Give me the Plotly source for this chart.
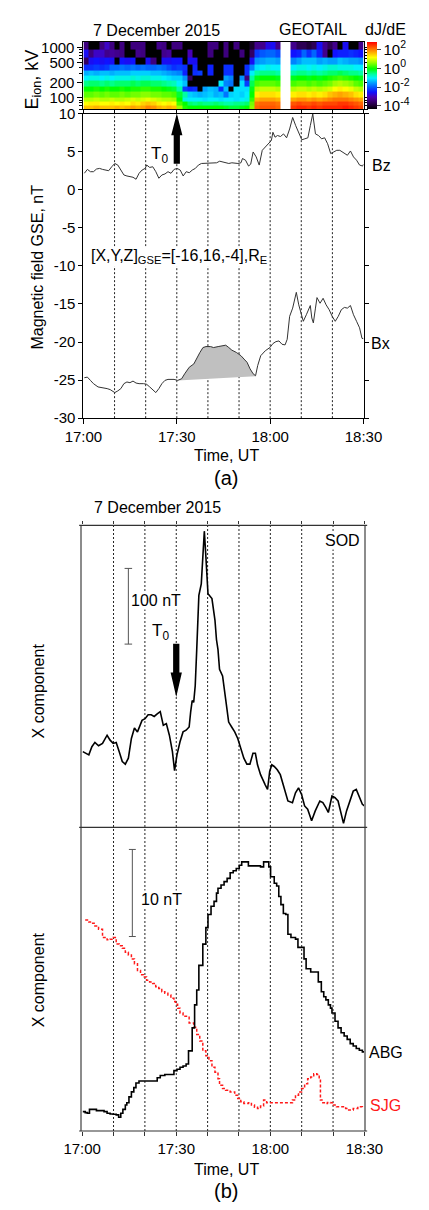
import numpy as np
import plotly.graph_objects as go

W, H = 429, 1210
FONT = "Liberation Sans, Arial, sans-serif"


def fx(px):
    return px / W


def fy(py):
    return 1 - py / H


# ---------------------------------------------------------------- time axis
# all times are minutes after 17:00 UT on 7 December 2015
TIME_TICKS = [0, 30, 60, 90]
TIME_LABELS = ["17:00", "17:30", "18:00", "18:30"]
TEN_MIN_TICKS = [0, 10, 20, 30, 40, 50, 60, 70, 80, 90]
GRID_MINUTES = [10, 20, 30, 40, 50, 60, 70, 80]
T0_MIN = 30

# ---------------------------------------------------------------- Geotail ion spectrogram
ENERGY_EDGES_KEV = [60, 70, 83, 102, 132, 170, 220, 280, 355, 470, 630, 930, 1320]
ENERGY_TICKS_KEV = [100, 200, 500, 1000]
ENERGY_MINOR_KEV = [60, 70, 80, 90, 300, 400, 600, 700, 800, 900]
N_SPEC_BINS = 54
GAP = [None, None]
# log10 dJ/dE, one row per energy channel (lowest channel first)
FLUX_LOG10 = [
    [1.6, 1.6, 1.7, 1.6, 1.6, 1.6, 1.7, 1.6, 1.7, 1.8, 1.7, 1.8, 2.0, 1.9, 1.7, 1.6, 1.7, 1.6]
    + [0.7, 0.1, 0.0, 0.0, 0.0, 0.0, 0.0, 0.0, 0.0, -0.1, -0.2, -0.2, -0.1, 0.0, 0.6]
    + [2.2, 2.3, 2.3, 2.3, 2.2] + GAP
    + [2.5, 2.6, 2.6, 2.5, 2.6, 2.5, 2.6, 2.6, 2.6, 2.6, 2.7, 2.6, 2.5, 2.4],
    [1.2, 1.3, 1.3, 1.2, 1.2, 1.3, 1.2, 1.3, 1.2, 1.4, 1.3, 1.5, 1.6, 1.5, 1.3, 1.2, 1.3, 1.2]
    + [0.3, 0.0, -0.4, -0.5, -0.4, -0.5, -0.5, -0.4, -0.5, -0.6, -0.6, -0.5, -0.5, -0.4, 0.5]
    + [2.1, 2.2, 2.2, 2.2, 2.1] + GAP
    + [2.3, 2.4, 2.3, 2.3, 2.4, 2.3, 2.4, 2.4, 2.4, 2.5, 2.5, 2.4, 2.3, 2.2],
    [0.8, 0.8, 0.9, 0.8, 0.8, 0.9, 0.8, 0.8, 0.9, 1.0, 0.9, 1.0, 1.1, 1.0, 0.9, 0.8, 0.8, 0.7]
    + [0.0, -0.9, -1.0, -1.0, -1.0, -1.1, -1.0, -1.0, -1.1, -1.0, -1.0, -1.1, -1.0, -0.9, 0.2]
    + [1.7, 1.8, 1.8, 1.8, 1.7] + GAP
    + [1.8, 1.9, 1.9, 1.8, 1.9, 1.8, 1.9, 2.0, 2.1, 2.1, 2.1, 2.0, 1.9, 1.8],
    [0.4, 0.4, 0.5, 0.4, 0.5, 0.4, 0.4, 0.5, 0.4, 0.5, 0.5, 0.6, 0.6, 0.5, 0.5, 0.4, 0.4, 0.3]
    + [-0.2, -0.6, -1.2, -1.3, -1.4, -1.3, -1.2, -1.4, -1.3, -1.8, -1.2, -1.1, -1.2, -1.0, 0.0]
    + [1.3, 1.4, 1.4, 1.4, 1.3] + GAP
    + [1.3, 1.4, 1.4, 1.3, 1.4, 1.3, 1.4, 1.6, 1.7, 1.8, 1.7, 1.6, 1.4, 1.3],
    [0.0, 0.0, 0.1, 0.0, 0.1, 0.0, 0.0, 0.1, 0.0, 0.1, 0.1, 0.2, 0.2, 0.1, 0.1, 0.0, -0.1, -0.2]
    + [-0.6, -2.2, -2.4, -2.3, -4.3, -1.5, -1.3, -1.4, -2.3, -1.3, -4.3, -1.1, -1.1, -1.1, -0.1]
    + [0.8, 0.9, 0.9, 0.9, 0.8] + GAP
    + [0.8, 0.9, 0.9, 0.8, 0.9, 0.8, 0.9, 1.0, 1.2, 1.3, 1.2, 1.1, 0.9, 0.8],
    [-0.5, -0.4, -0.4, -0.5, -0.4, -0.5, -0.4, -0.4, -0.4, -0.3, -0.4, -0.3, -0.3, -0.4, -0.4, -0.5, -0.6, -0.7]
    + [-1.0, -1.3, -4.3, -4.3, -4.3, -4.3, -4.3, -4.3, -1.0, -1.7, -1.8, -4.3, -1.1, -2.2, -0.3]
    + [0.3, 0.4, 0.4, 0.4, 0.3] + GAP
    + [0.3, 0.4, 0.4, 0.3, 0.4, 0.3, 0.4, 0.5, 0.7, 0.8, 0.7, 0.6, 0.4, 0.3],
    [-1.0, -0.9, -0.9, -1.0, -0.9, -1.0, -0.9, -0.9, -0.9, -0.8, -0.9, -0.8, -0.8, -0.9, -0.9, -1.0, -1.1, -1.2]
    + [-1.2, -1.6, -3.6, -4.3, -4.3, -4.3, -4.3, -4.3, -4.3, -1.5, -1.7, -4.3, -1.6, -3.4, -0.6]
    + [-0.1, 0.0, 0.0, 0.0, -0.1] + GAP
    + [-0.1, 0.0, 0.0, -0.1, 0.0, -0.1, 0.0, 0.1, 0.2, 0.3, 0.2, 0.1, 0.0, -0.1],
    [-1.4, -1.3, -1.4, -1.3, -1.3, -1.4, -1.3, -1.3, -1.3, -1.2, -1.2, -1.2, -1.2, -1.3, -1.3, -1.4, -1.5, -1.6]
    + [-1.7, -2.4, -4.3, -2.3, -2.2, -4.3, -2.4, -4.3, -4.3, -2.3, -2.3, -4.3, -4.3, -2.3, -1.0]
    + [-0.6, -0.5, -0.5, -0.5, -0.6] + GAP
    + [-0.6, -0.5, -0.5, -0.6, -0.5, -0.6, -0.5, -0.4, -0.4, -0.3, -0.4, -0.5, -0.5, -0.6],
    [-2.3, -2.3, -2.2, -2.3, -2.2, -1.9, -1.9, -1.8, -1.9, -1.8, -1.9, -1.8, -1.9, -1.9, -1.8, -1.9, -2.1, -2.3]
    + [-2.2, -2.3, -4.3, -2.4, -4.3, -4.3, -2.4, -4.3, -4.3, -2.3, -2.3, -4.3, -4.3, -2.3, -1.7]
    + [-1.1, -1.0, -0.9, -1.0, -1.0] + GAP
    + [-1.0, -0.9, -0.9, -1.0, -0.9, -1.0, -0.9, -0.8, -0.8, -0.9, -0.9, -0.9, -1.0, -1.0],
    [-3.6, -2.6, -2.5, -2.6, -2.5, -2.6, -4.3, -2.5, -2.6, -2.5, -4.3, -4.3, -2.6, -3.4, -4.3, -2.6, -2.6, -2.5]
    + [-2.5, -4.3, -2.6, -2.6, -4.3, -4.3, -4.3, -4.3, -4.3, -4.3, -4.3, -4.3, -4.3, -4.3, -2.6]
    + [-1.6, -1.5, -1.4, -1.4, -1.5] + GAP
    + [-1.7, -1.5, -1.3, -1.3, -1.3, -1.5, -1.4, -1.5, -1.5, -1.3, -1.4, -1.5, -1.5, -1.6],
    [-2.6, -3.4, -2.9, -2.9, -3.3, -3.2, -3.3, -3.4, -4.3, -4.3, -3.3, -3.4, -4.3, -4.3, -4.3, -3.3, -3.2, -4.3]
    + [-4.3, -4.3, -3.0, -4.3, -4.3, -4.3, -3.4, -4.3, -4.3, -3.4, -4.3, -4.3, -3.4, -4.3, -3.6]
    + [-2.2, -2.0, -1.9, -1.9, -2.1] + GAP
    + [-2.5, -2.4, -1.9, -2.3, -1.9, -2.4, -3.3, -4.3, -2.5, -2.4, -2.4, -2.3, -2.4, -2.5],
    [-3.4, -4.3, -4.3, -3.4, -2.9, -3.4, -4.3, -3.4, -4.3, -3.4, -3.4, -3.4, -4.3, -4.3, -3.3, -3.4, -4.3, -3.4]
    + [-3.4, -4.3, -4.3, -4.3, -4.3, -4.3, -3.4, -3.4, -4.3, -3.4, -4.3, -3.4, -4.3, -4.3, -4.0]
    + [-3.3, -3.3, -2.7, -2.6, -3.3] + GAP
    + [-3.3, -3.7, -3.7, -3.9, -3.7, -2.6, -3.3, -3.7, -3.3, -4.3, -2.6, -4.3, -4.3, -3.3],
]
FLUX_RANGE = [-4.3, 2.85]
FLUX_TICKS = [-4, -2, 0, 2]

# ---------------------------------------------------------------- Geotail magnetic field (GSE), nT
BZ_T = [0.29, 1.27, 2.25, 3.22, 4.20, 5.18, 6.16, 7.13, 8.11, 9.09, 10.07, 11.04, 12.02, 13.00,
        13.97, 14.95, 15.93, 16.91, 17.88, 18.86, 19.84, 20.33, 21.30, 22.28, 23.26, 24.24,
        25.21, 26.19, 27.17, 28.14, 29.12, 30.10, 31.08, 32.05, 33.03, 34.01, 34.98, 35.96,
        36.94, 37.92, 38.89, 39.87, 40.85, 41.83, 42.80, 43.78, 44.76, 45.73, 46.71, 47.69,
        48.67, 49.64, 50.62, 51.11, 52.09, 53.06, 53.75, 54.53, 55.51, 56.48, 57.46, 58.44,
        59.41, 60.39, 60.88, 61.57, 62.35, 63.32, 64.30, 65.28, 66.26, 67.23, 68.21, 69.19,
        70.17, 71.14, 72.12, 72.90, 73.69, 74.56, 75.54, 76.52, 77.50, 78.47, 79.45, 80.43,
        81.40, 82.38, 83.85, 84.82, 85.80, 86.78, 87.76, 88.73, 89.71, 90.0]
BZ = [2.15, 2.66, 2.36, 2.36, 2.71, 2.79, 2.66, 2.58, 2.49, 3.01, 3.44, 3.23, 2.58, 1.93,
      1.80, 1.72, 1.63, 1.37, 2.15, 2.58, 2.79, 3.23, 2.92, 3.01, 2.36, 1.50,
      1.93, 2.06, 2.36, 2.15, 2.66, 2.79, 2.58, 1.80, 2.36, 2.23, 2.58, 2.79,
      3.23, 3.44, 3.44, 3.44, 3.44, 3.44, 3.53, 3.74, 3.66, 3.53, 3.44, 3.53,
      3.44, 3.44, 3.53, 4.09, 3.87, 3.10, 3.35, 4.95, 4.30, 3.23, 5.17, 5.60,
      5.94, 6.46, 7.54, 6.89, 7.11, 6.98, 7.32, 6.81, 7.97, 9.48, 8.40, 7.54,
      6.55, 6.68, 6.81, 8.40, 9.95, 7.32, 7.11, 6.68, 6.81, 6.03, 4.74, 4.95,
      5.17, 5.17, 4.82, 4.52, 5.08, 4.30, 3.87, 3.23, 3.10, 3.35]

BX_T = [0.29, 1.27, 2.25, 3.22, 4.69, 6.16, 7.62, 8.60, 10.07, 11.04, 12.02, 13.00, 13.97,
        14.95, 15.93, 16.91, 17.88, 19.35, 20.33, 21.30, 22.28, 23.26, 24.24, 25.21, 26.19,
        27.17, 28.14, 29.12, 30.29, 31.56, 32.54, 34.01, 35.47, 36.45, 37.43, 38.41, 39.38,
        40.85, 41.83, 43.29, 44.76, 45.73, 46.71, 47.69, 49.15, 50.62, 51.60, 52.58, 53.55,
        54.53, 55.31, 55.99, 56.97, 58.44, 59.91, 60.88, 61.86, 62.84, 63.81, 64.79, 65.47,
        66.26, 67.23, 68.41, 69.19, 70.65, 71.63, 72.90, 73.39, 73.88, 74.56, 75.05, 76.03,
        77.01, 77.98, 78.96, 79.94, 80.92, 81.89, 82.87, 83.85, 84.82, 85.80, 86.78, 87.76,
        88.73, 89.51, 90.0]
BX = [-24.69, -24.61, -25.04, -25.47, -25.90, -25.99, -26.12, -26.25, -26.64, -26.42, -26.12,
      -25.47, -25.25, -25.34, -25.13, -25.39, -25.47, -25.47, -25.56, -25.90, -26.33, -26.64,
      -26.12, -25.47, -25.04, -24.91, -24.91, -24.91, -25.04, -24.82, -24.17, -23.31, -22.88,
      -22.02, -21.37, -20.73, -20.60, -20.60, -20.73, -20.60, -20.51, -20.42, -20.73, -21.07,
      -21.37, -21.80, -22.24, -22.67, -23.53, -24.17, -24.43, -23.10, -21.80, -21.15, -20.73,
      -20.21, -19.95, -19.86, -20.30, -20.38, -19.65, -16.63, -15.55, -13.48, -15.12, -17.28,
      -16.42, -15.21, -16.85, -17.49, -15.55, -14.17, -14.91, -14.26, -15.12, -15.76, -16.63,
      -17.28, -16.63, -15.76, -15.46, -15.55, -15.21, -16.42, -17.28, -18.14, -19.52, -19.57]

# shaded Bx enhancement and its straight base line
SHADE_T = [30.29, 55.31]
SHADE_BASE = [-25.05, -24.50]

# ---------------------------------------------------------------- ground magnetometers, X component
SOD_T = [0.19, 1.16, 2.13, 3.10, 4.07, 5.23, 6.49, 7.95, 8.91, 9.88, 10.85, 11.82, 12.79, 13.76,
         14.73, 15.70, 16.67, 17.64, 18.60, 19.09, 20.06, 21.03, 22.00, 22.97, 23.93, 24.90,
         25.87, 26.84, 27.81, 28.78, 29.46, 30.23, 31.20, 32.17, 33.14, 34.11, 34.59, 35.08,
         35.56, 36.05, 36.53, 37.21, 37.98, 38.66, 38.95, 39.34, 40.12, 41.38, 42.34, 42.83,
         43.31, 43.80, 44.77, 45.74, 46.71, 47.67, 48.64, 49.61, 50.58, 51.55, 52.52, 53.49,
         54.46, 55.23, 55.91, 56.88, 58.33, 59.11, 59.79, 60.47, 61.24, 62.21, 63.18, 64.15,
         65.60, 67.05, 68.02, 68.99, 69.96, 70.93, 71.90, 73.16, 74.32, 75.78, 76.74, 77.71,
         78.49, 79.65, 80.62, 81.59, 82.56, 83.33, 84.30, 85.47, 86.43, 87.40, 88.37, 89.34, 90.0]
SOD = [100.0, 97.8, 95.7, 106.5, 112.2, 107.8, 110.9, 121.7, 115.2, 110.9, 112.2, 100.0, 87.0,
       83.5, 91.3, 117.4, 131.3, 126.1, 134.8, 141.3, 143.5, 148.7, 148.7, 146.5, 150.0, 153.0,
       134.8, 137.0, 121.7, 100.0, 74.8, 95.7, 113.0, 126.1, 128.3, 132.6, 152.2, 167.4,
       165.2, 187.0, 234.8, 306.5, 321.7, 365.2, 391.3, 365.2, 308.7, 302.2, 273.9, 247.8,
       234.8, 208.7, 200.0, 169.6, 139.1, 132.6, 126.1, 117.4, 104.3, 91.3, 83.5, 83.5,
       97.8, 97.8, 82.6, 69.6, 56.5, 50.0, 73.9, 82.6, 80.4, 76.1, 69.6, 56.5,
       34.8, 32.6, 45.7, 52.2, 43.5, 28.3, 23.9, 8.7, 21.7, 34.8, 32.6, 26.1,
       19.6, 41.3, 39.1, 34.8, 17.4, 5.2, 21.7, 34.8, 47.8, 50.0, 41.3, 30.4, 28.3]
SOD_RANGE = [0, 399]
SOD_SCALE_BAR = [242.1, 342.1]     # 100 nT
SOD_SCALE_T = 14.73

ABG_T = [0.19, 0.97, 1.65, 2.33, 3.59, 4.55, 6.01, 6.98, 7.95, 8.91, 9.88, 10.85, 11.63, 12.31,
         12.98, 13.76, 14.24, 14.92, 15.70, 16.47, 17.15, 18.12, 19.57, 21.51, 22.97, 23.93,
         24.90, 26.36, 28.29, 29.26, 30.23, 31.20, 32.17, 33.14, 33.91, 34.59, 35.08, 35.56,
         35.85, 36.53, 37.21, 37.79, 38.47, 39.44, 40.12, 41.09, 42.05, 42.83, 43.31, 44.28,
         45.25, 46.22, 47.19, 48.16, 49.13, 50.10, 50.87, 51.84, 53.00, 53.97, 55.43, 56.88,
         57.85, 58.82, 59.50, 60.08, 61.24, 62.02, 62.69, 63.37, 64.15, 64.92, 65.60, 66.57,
         68.02, 68.80, 69.96, 70.74, 71.41, 72.87, 74.32, 75.29, 76.26, 77.03, 77.71, 78.49,
         79.17, 79.65, 80.62, 81.59, 82.56, 83.53, 84.50, 85.47, 86.43, 87.40, 88.37, 89.34, 90.0]
ABG = [2.23, 2.11, 2.04, 2.49, 2.49, 2.34, 2.34, 2.23, 2.04, 1.96, 1.92, 1.85, 1.58, 2.04,
       2.49, 2.98, 3.25, 3.92, 4.49, 4.98, 5.51, 5.74, 5.74, 5.74, 5.74, 6.11,
       6.38, 6.49, 6.49, 6.94, 7.09, 7.32, 7.47, 7.70, 9.21, 9.21, 11.85, 11.85,
       14.49, 16.19, 19.02, 19.02, 21.47, 23.36, 24.87, 25.81, 26.38, 27.32, 27.89, 28.26,
       28.64, 29.02, 29.66, 29.89, 30.15, 30.53, 30.91, 30.91, 30.45, 30.45, 30.45, 30.34,
       30.91, 30.91, 30.34, 29.21, 28.45, 28.15, 26.94, 26.00, 24.98, 24.87, 22.60, 22.23,
       22.04, 21.09, 21.09, 19.77, 18.64, 18.26, 18.26, 17.13, 16.00, 15.43, 15.06, 14.49,
       14.11, 13.55, 12.60, 11.85, 11.28, 10.91, 10.53, 10.04, 9.77, 9.47, 9.28, 9.09, 9.09]

SJG_T = [0.97, 2.13, 3.10, 4.07, 5.23, 6.49, 7.95, 8.91, 9.88, 10.85, 11.82, 12.79, 13.76, 14.73,
         15.70, 16.67, 17.64, 18.60, 19.57, 20.54, 21.51, 22.48, 23.45, 24.42, 25.39, 26.36,
         27.33, 28.29, 29.26, 29.75, 30.43, 31.20, 32.17, 34.11, 35.56, 36.53, 37.50, 38.47,
         39.44, 40.41, 41.38, 42.34, 43.31, 43.80, 44.77, 45.74, 47.19, 48.64, 49.61, 50.58,
         51.55, 53.00, 53.97, 54.94, 55.91, 56.88, 57.85, 58.82, 60.27, 62.21, 64.15, 66.09,
         67.05, 68.02, 68.99, 69.96, 70.93, 71.90, 72.87, 73.84, 74.81, 75.58, 75.97, 76.74,
         77.71, 78.20, 79.17, 80.14, 81.10, 82.56, 84.01, 84.98, 86.43, 87.89, 89.34, 90.0]
SJG = [24.23, 24.00, 23.85, 23.55, 23.17, 22.23, 21.96, 22.04, 22.23, 21.47, 21.28, 20.98, 20.53,
       20.23, 19.77, 19.21, 18.45, 17.96, 17.70, 17.32, 17.13, 16.94, 16.57, 16.38, 16.00, 15.81,
       15.62, 15.25, 14.87, 14.57, 14.11, 13.55, 13.17, 12.42, 11.92, 11.09, 10.34, 9.21,
       8.64, 8.08, 7.32, 6.75, 6.00, 5.25, 4.87, 4.68, 4.49, 4.11, 3.74, 3.36,
       3.17, 3.25, 2.98, 2.72, 2.60, 2.87, 3.55, 3.25, 3.25, 3.25, 3.25, 3.25,
       3.55, 4.11, 4.49, 4.87, 5.43, 6.00, 6.19, 6.57, 6.49, 6.00, 3.55, 3.25,
       3.17, 3.28, 3.25, 2.98, 2.79, 2.79, 2.60, 2.42, 2.60, 2.79, 2.72, 2.72]
LOW_RANGE = [0, 34.88]
LOW_SCALE_BAR = [22.34, 32.34]     # 10 nT
LOW_SCALE_T = 16.0

# ---------------------------------------------------------------- layout geometry (pixels)
A_X = [fx(70.7), fx(378.0)]
B_X = [fx(69.3), fx(379.0)]
SPEC_Y = [fy(101.5), fy(33.0)]
MAG_Y = [fy(415.0), fy(106.0)]
BUP_Y = [fy(830.0), fy(523.7)]
BLO_Y = [fy(1138.0), fy(830.0)]

COLORSCALE = [
    [0.00, "#000000"], [0.05, "#1e0035"], [0.12, "#3c0078"], [0.18, "#4a00b4"],
    [0.25, "#1010ff"], [0.33, "#0060ff"], [0.40, "#00a8ff"], [0.46, "#00f0ff"],
    [0.52, "#00ffa0"], [0.60, "#00ff00"], [0.70, "#a0ff00"], [0.77, "#ffff00"],
    [0.87, "#ff9000"], [1.00, "#ff0000"],
]

fig = go.Figure()

time_edges = np.linspace(0, 90, N_SPEC_BINS + 1)
fig.add_trace(go.Heatmap(
    x=time_edges, y=np.log10(ENERGY_EDGES_KEV), z=FLUX_LOG10,
    zmin=FLUX_RANGE[0], zmax=FLUX_RANGE[1], colorscale=COLORSCALE,
    xaxis="x", yaxis="y", hoverongaps=False,
    colorbar=dict(
        x=fx(382), xanchor="left", y=fy(67), yanchor="middle",
        len=68 / H, lenmode="fraction", thickness=10, thicknessmode="pixels",
        outlinewidth=0, xpad=0, ypad=0, ticks="outside", ticklen=4,
        tickvals=FLUX_TICKS, ticktext=[f"10<sup>{v}</sup>" for v in FLUX_TICKS],
        tickfont=dict(family=FONT, size=15, color="black"),
    ),
))

# shaded Bx enhancement
shade_idx = [i for i, t in enumerate(BX_T) if SHADE_T[0] <= t <= SHADE_T[1]]
shade_x = [BX_T[i] for i in shade_idx] + [SHADE_T[1], SHADE_T[0]]
shade_y = [BX[i] for i in shade_idx] + [SHADE_BASE[1], SHADE_BASE[0]]
fig.add_trace(go.Scatter(x=shade_x, y=shade_y, fill="toself", fillcolor="#c0c0c0",
                         line=dict(width=0), mode="lines", xaxis="x2", yaxis="y2",
                         hoverinfo="skip"))
fig.add_trace(go.Scatter(x=BZ_T, y=BZ, mode="lines", line=dict(color="#333333", width=1),
                         xaxis="x2", yaxis="y2"))
fig.add_trace(go.Scatter(x=BX_T, y=BX, mode="lines", line=dict(color="#333333", width=1),
                         xaxis="x2", yaxis="y2"))

fig.add_trace(go.Scatter(x=SOD_T, y=SOD, mode="lines", line=dict(color="black", width=1.6),
                         xaxis="x3", yaxis="y3"))
fig.add_trace(go.Scatter(x=SJG_T, y=SJG, mode="lines", line_shape="hv",
                         line=dict(color="#ff1a1a", width=1.5, dash="3px,2px"),
                         xaxis="x4", yaxis="y4"))
fig.add_trace(go.Scatter(x=ABG_T, y=ABG, mode="lines", line_shape="hv",
                         line=dict(color="black", width=1.6), xaxis="x4", yaxis="y4"))

tick_font = dict(family=FONT, size=15, color="black")
ten_min_text = [TIME_LABELS[TIME_TICKS.index(t)] if t in TIME_TICKS else "" for t in TEN_MIN_TICKS]
common_x = dict(range=[0, 90], showgrid=False, zeroline=False, tickfont=tick_font)

fig.update_layout(
    width=W, height=H, margin=dict(l=0, r=0, t=0, b=0),
    paper_bgcolor="white", plot_bgcolor="white", showlegend=False,
    font=dict(family=FONT, size=16, color="black"),
    xaxis=dict(**common_x, domain=A_X, anchor="y", showticklabels=False,
               tickvals=TEN_MIN_TICKS, ticks="outside", ticklen=4, tickcolor="black",
               showline=True, linecolor="black", linewidth=1, mirror=True),
    yaxis=dict(domain=SPEC_Y, anchor="x", range=[np.log10(60), np.log10(1320)],
               showgrid=False, zeroline=False,
               tickvals=np.log10(ENERGY_TICKS_KEV), ticktext=[str(v) for v in ENERGY_TICKS_KEV],
               ticks="outside", ticklen=5, tickcolor="black", tickfont=tick_font,
               minor=dict(tickvals=np.log10(ENERGY_MINOR_KEV), ticks="outside", ticklen=3,
                          tickcolor="black"),
               showline=True, linecolor="black", linewidth=1, mirror="ticks"),
    xaxis2=dict(**common_x, domain=A_X, anchor="y2",
                tickvals=TIME_TICKS, ticktext=TIME_LABELS, ticks="outside", ticklen=5,
                tickcolor="black", showline=True, linecolor="black", linewidth=1, mirror=True),
    yaxis2=dict(domain=MAG_Y, anchor="x2", range=[-30, 10], showgrid=False, zeroline=False,
                tickvals=list(range(-30, 11, 5)),
                ticktext=[str(v) for v in range(-30, 11, 5)],
                ticks="outside", ticklen=4, tickcolor="black", tickfont=tick_font,
                showline=True, linecolor="black", linewidth=1, mirror="ticks"),
    xaxis3=dict(**common_x, domain=B_X, anchor="y3", side="top", showticklabels=False,
                tickvals=TEN_MIN_TICKS, ticks="outside", ticklen=3, tickcolor="#333333",
                showline=False),
    yaxis3=dict(domain=BUP_Y, anchor="x3", range=SOD_RANGE, showgrid=False, zeroline=False,
                showticklabels=False, ticks="", showline=True, linecolor="#8c8c8c",
                linewidth=1.5, mirror=True),
    xaxis4=dict(**common_x, domain=B_X, anchor="y4",
                tickvals=TEN_MIN_TICKS, ticktext=ten_min_text, ticks="outside", ticklen=4,
                tickcolor="#333333", showline=False),
    yaxis4=dict(domain=BLO_Y, anchor="x4", range=LOW_RANGE, showgrid=False, zeroline=False,
                showticklabels=False, ticks="", showline=True, linecolor="#8c8c8c",
                linewidth=1.5, mirror=True),
)

shapes = []
dot = dict(color="#222222", width=1, dash="2px,2px")
for m in GRID_MINUTES:
    shapes.append(dict(type="line", xref="x2", yref="y2 domain", x0=m, x1=m, y0=0, y1=1,
                       line=dot, layer="below"))
    shapes.append(dict(type="line", xref="x3", yref="paper", x0=m, x1=m,
                       y0=BLO_Y[0], y1=BUP_Y[1], line=dot, layer="below"))

# frame lines of panel (b)
for yy in (523.7, 830.0, 1138.0):
    shapes.append(dict(type="line", xref="paper", yref="paper", x0=fx(66), x1=fx(382),
                       y0=fy(yy), y1=fy(yy), line=dict(color="#333333", width=1.2)))

# T0 arrows (solid black)
shaft, head = 1.0, 1.8
shapes.append(dict(
    type="path", xref="x2", yref="y2", fillcolor="black", line=dict(width=0),
    path=(f"M {T0_MIN - shaft},3.4 L {T0_MIN + shaft},3.4 L {T0_MIN + shaft},7.15 "
          f"L {T0_MIN + head},7.15 L {T0_MIN},10 L {T0_MIN - head},7.15 "
          f"L {T0_MIN - shaft},7.15 Z")))
shapes.append(dict(
    type="path", xref="x3", yref="y3", fillcolor="black", line=dict(width=0),
    path=(f"M {T0_MIN - shaft},242.5 L {T0_MIN + shaft},242.5 L {T0_MIN + shaft},204.7 "
          f"L {T0_MIN + head},204.7 L {T0_MIN},172.1 L {T0_MIN - head},204.7 "
          f"L {T0_MIN - shaft},204.7 Z")))

# scale bars
bar = dict(color="#555555", width=1)
for xr, yr, t, (lo, hi), cap in (("x3", "y3", SOD_SCALE_T, SOD_SCALE_BAR, 1.2),
                                 ("x4", "y4", LOW_SCALE_T, LOW_SCALE_BAR, 1.1)):
    shapes.append(dict(type="line", xref=xr, yref=yr, x0=t, x1=t, y0=lo, y1=hi, line=bar))
    for yv in (lo, hi):
        shapes.append(dict(type="line", xref=xr, yref=yr, x0=t - cap, x1=t + cap,
                           y0=yv, y1=yv, line=bar))

fig.update_layout(shapes=shapes)


def note(text, x, y, xanchor="center", size=16, angle=0, color="black", bg=None):
    d = dict(text=text, x=fx(x), y=fy(y), xref="paper", yref="paper", showarrow=False,
             xanchor=xanchor, yanchor="middle", textangle=angle,
             font=dict(family=FONT, size=size, color=color), borderpad=0)
    if bg:
        d["bgcolor"] = bg
    return d


annotations = [
    note("7 December 2015", 80, 22, "left"),
    note("GEOTAIL", 323, 21),
    note("dJ/dE", 402, 21),
    note("E<sub>ion</sub>, kV", 16, 72, angle=-90, size=18),
    note("Magnetic field GSE, nT", 20, 262, angle=-90),
    note("T<sub>0</sub>", 165, 148, "right", size=17),
    note("Bz", 386, 159, "left"),
    note("Bx", 385, 339, "left"),
    note("[X,Y,Z]<sub>GSE</sub>=[-16,16,-4],R<sub>E</sub>", 176, 251, bg="white"),
    note("Time, UT", 228, 453),
    note("(a)", 227, 476, size=20),
    note("7 December 2015", 81, 506, "left"),
    note("SOD", 375, 539, "right", bg="white"),
    note("100 nT", 122, 600, "left", bg="white"),
    note("T<sub>0</sub>", 166, 632, "right", size=17, bg="white"),
    note("X component", 21, 692, angle=-90),
    note("10 nT", 133, 903, "left", bg="white"),
    note("X component", 21, 985, angle=-90),
    note("ABG", 383, 1058, "left"),
    note("SJG", 384, 1112, "left", color="#ff1a1a"),
    note("Time, UT", 228, 1177),
    note("(b)", 227, 1199, size=20),
]
fig.update_layout(annotations=annotations)

fig.write_html("out.html")
